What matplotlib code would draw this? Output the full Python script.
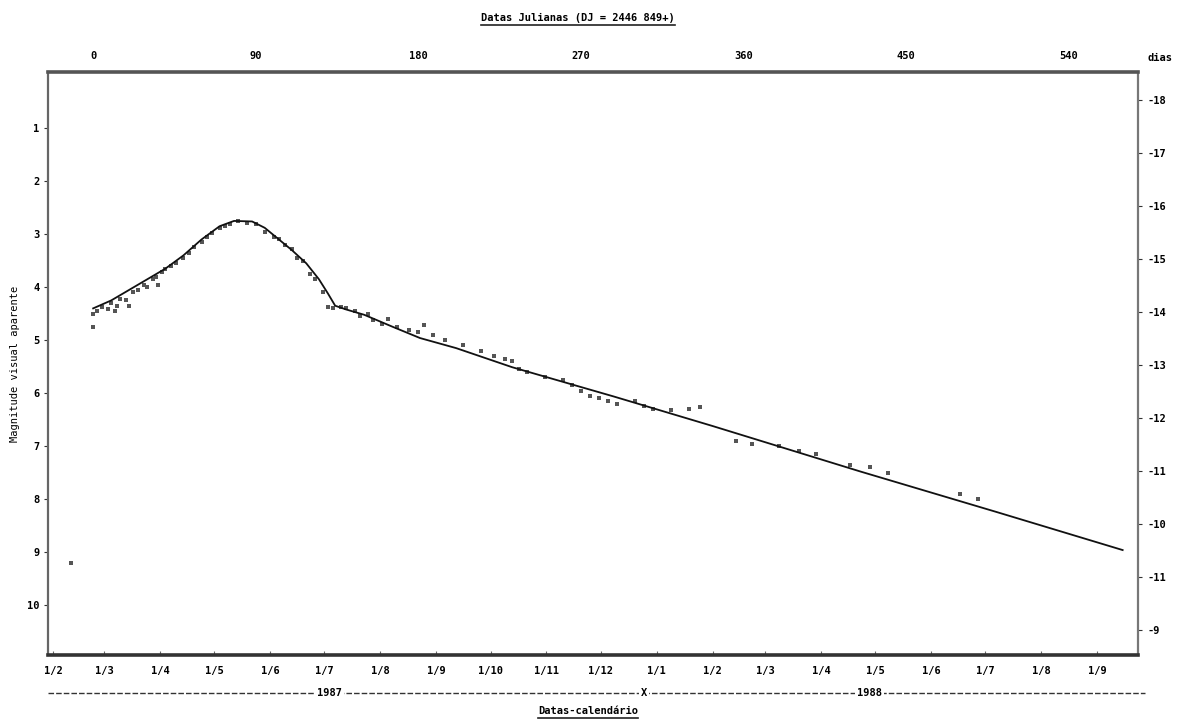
import matplotlib
matplotlib.use("Agg")
import matplotlib.pyplot as plt
from matplotlib.lines import Line2D
from matplotlib.transforms import blended_transform_factory

# ---- data (days after DJ 2446849, apparent visual magnitude) ----
line_days = [0, 10, 20, 30, 40, 50, 60, 70, 78, 88, 95, 100, 110, 118, 125, 130,
             134, 140, 150, 166, 181, 201, 232, 288, 343, 425, 500, 570]
line_mag = [4.40, 4.25, 4.05, 3.85, 3.65, 3.40, 3.10, 2.85, 2.75, 2.76, 2.88, 3.02,
            3.30, 3.55, 3.85, 4.12, 4.35, 4.42, 4.52, 4.75, 4.96, 5.15, 5.51, 6.06,
            6.62, 7.48, 8.24, 8.96]

obs_days = [-12, 0, 0, 2, 5, 8, 10, 12, 13, 15, 18, 20, 22, 25, 28, 30, 33, 35, 36,
            38, 40, 43, 46, 50, 53, 56, 60, 63, 66, 70, 73, 76, 80, 85, 90,
            95, 100, 103, 106, 110, 113, 116, 120, 123, 127, 130, 133, 137, 140,
            145, 148, 152, 155, 160, 163, 168, 175, 180, 183, 188, 195, 205, 215,
            222, 228, 232, 236, 240, 250, 260, 265, 270, 275, 280, 285, 290, 300,
            305, 310, 320, 330, 336, 356, 365, 380, 391, 400, 419, 430, 440, 480, 490]
obs_mag = [9.2, 4.75, 4.5, 4.45, 4.38, 4.42, 4.30, 4.45, 4.35, 4.22, 4.25, 4.35, 4.10,
           4.05, 3.95, 4.00, 3.85, 3.80, 3.95, 3.72, 3.65, 3.60, 3.55, 3.45, 3.35,
           3.25, 3.15, 3.05, 2.98, 2.88, 2.85, 2.80, 2.75, 2.78, 2.80,
           2.95, 3.05, 3.10, 3.20, 3.28, 3.45, 3.50, 3.75, 3.85, 4.10, 4.38, 4.40,
           4.38, 4.40, 4.45, 4.55, 4.50, 4.62, 4.70, 4.60, 4.75, 4.80, 4.85, 4.72,
           4.90, 5.00, 5.10, 5.20, 5.30, 5.35, 5.40, 5.55, 5.60, 5.70, 5.75, 5.85,
           5.95, 6.05, 6.10, 6.15, 6.20, 6.15, 6.25, 6.30, 6.32, 6.30, 6.26, 6.90,
           6.95, 7.00, 7.10, 7.15, 7.35, 7.40, 7.50, 7.90, 8.00]

top_ticks = [0, 90, 180, 270, 360, 450, 540]
month_days = [-22, 6, 37, 67, 98, 128, 159, 190, 220, 251, 281, 312, 343, 372,
              403, 433, 464, 494, 525, 556]
month_labels = ["1/2", "1/3", "1/4", "1/5", "1/6", "1/7", "1/8", "1/9", "1/10",
                "1/11", "1/12", "1/1", "1/2", "1/3", "1/4", "1/5", "1/6", "1/7",
                "1/8", "1/9"]
left_ticks = [1, 2, 3, 4, 5, 6, 7, 8, 9, 10]
right_ticks = [-18, -17, -16, -15, -14, -13, -12, -11, -10, -9, -8]
right_labels = ["-18", "-17", "-16", "-15", "-14", "-13", "-12", "-11", "-10",
                "-11", "-9"]
dist_mod = 18.47
year_pos = [131, 305, 430]
year_labels = ["1987", "X", "1988"]

plt.rcParams['font.family'] = ['DejaVu Sans Mono']
plt.rcParams['font.weight'] = 'bold'
FS = 7.5

W, H = 1191, 725
fig = plt.figure(figsize=(W / 100, H / 100), dpi=100)
ax = fig.add_axes([48 / W, 1 - 655 / H, (1138 - 48) / W, (655 - 72) / H])

ax.plot(line_days, line_mag, color='#111111', lw=1.3, zorder=3)
ax.scatter(obs_days, obs_mag, s=5, marker='s', color='#555555', linewidths=0,
           zorder=2)

ax.set_xlim(-25, 578.5)
ax.set_ylim(10.94, -0.06)

for side, lw, c in [('top', 2.6, '#555555'), ('bottom', 2.6, '#333333'),
                    ('left', 1.6, '#666666'), ('right', 1.6, '#777777')]:
    ax.spines[side].set_linewidth(lw)
    ax.spines[side].set_color(c)

ax.set_xticks(month_days)
ax.set_xticklabels(month_labels)
ax.tick_params(axis='x', direction='in', length=3, pad=8, labelsize=FS,
               color='#666666')
ax.set_yticks(left_ticks)
ax.set_yticklabels([str(v) for v in left_ticks])
ax.tick_params(axis='y', direction='out', length=3, pad=3, labelsize=FS,
               color='#333333')
ax.set_ylabel("Magnitude visual aparente", fontsize=FS, labelpad=5)

top = ax.secondary_xaxis('top')
top.set_xticks(top_ticks)
top.set_xticklabels([str(v) for v in top_ticks])
top.tick_params(length=0, pad=8, labelsize=FS)
top.spines['top'].set_visible(False)

right = ax.secondary_yaxis('right', functions=(lambda m: m - dist_mod,
                                               lambda M: M + dist_mod))
right.set_yticks(right_ticks)
right.set_yticklabels(right_labels)
right.tick_params(direction='out', length=3, pad=4, labelsize=FS, color='#333333')
right.spines['right'].set_visible(False)

fig.text(1148 / W, 1 - 58 / H, "dias", fontsize=FS, ha='left', va='center')

# calendar year line
yl = 1 - 693 / H
fig.add_artist(Line2D([48 / W, 1145 / W], [yl, yl], ls=(0, (4, 1.5)), lw=1.0,
                      color='#333333'))
bt = blended_transform_factory(ax.transData, fig.transFigure)
for d, lab in zip(year_pos, year_labels):
    fig.text(d, yl, lab, transform=bt, fontsize=FS, ha='center', va='center',
             bbox=dict(facecolor='white', edgecolor='none', pad=1.5))

t1 = fig.text(578 / W, 1 - 18 / H, "Datas Julianas (DJ = 2446 849+)",
              fontsize=FS, ha='center', va='center')
t2 = fig.text(588 / W, 1 - 711 / H, "Datas-calendário", fontsize=FS,
              ha='center', va='center')

fig.canvas.draw()
r = fig.canvas.get_renderer()
for t in (t1, t2):
    bb = t.get_window_extent(r)
    y = (bb.y0 - 2) / H
    fig.add_artist(Line2D([bb.x0 / W, bb.x1 / W], [y, y], lw=1.2, color='#222222'))

fig.savefig("out.png", dpi=100)
